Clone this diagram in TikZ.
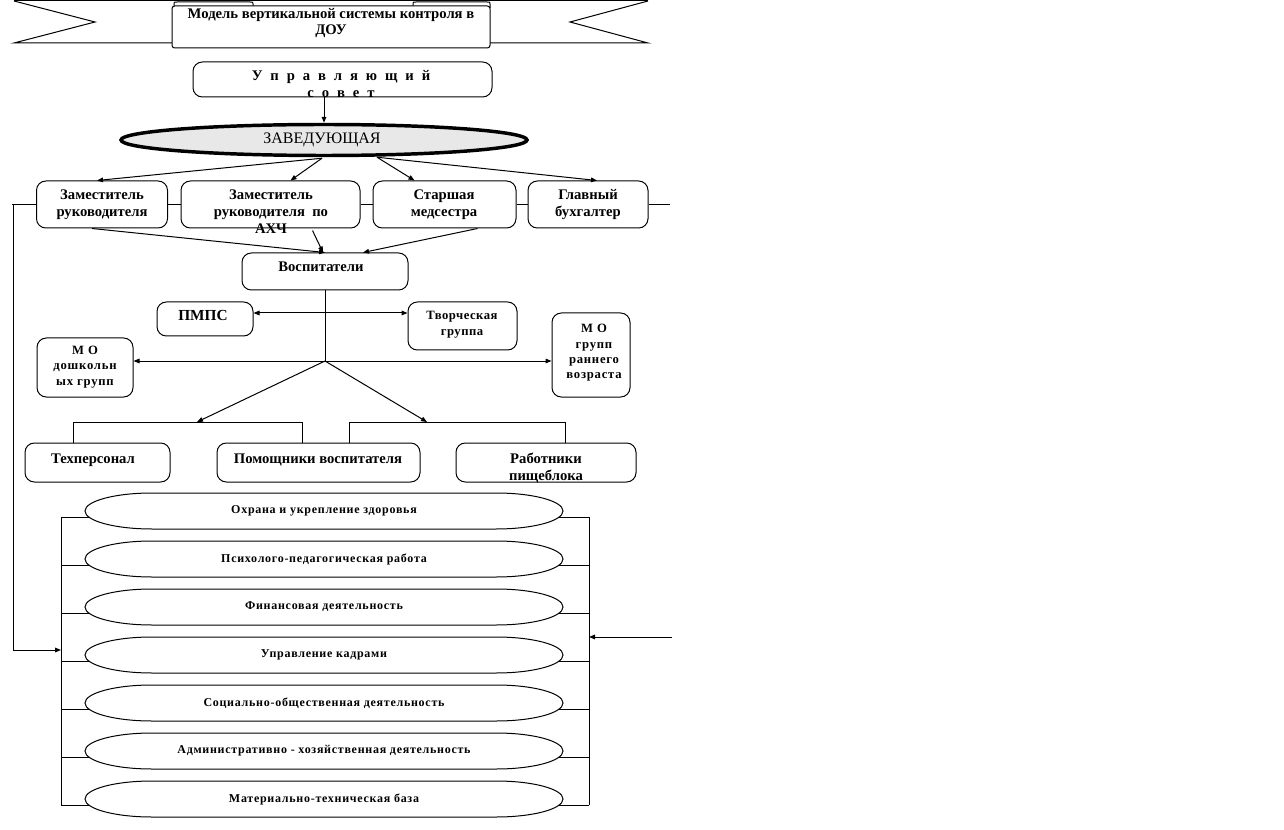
\documentclass[tikz,border=0pt]{standalone}
\usepackage{fontspec}
\setmainfont{Liberation Serif}
\usetikzlibrary{arrows.meta,shapes.geometric,calc}
\def\U{0.75pt}
\begin{document}
\begin{tikzpicture}[x=0.75pt,y=-0.75pt,line width=0.75pt,
  box/.style={draw,fill=white,rounded corners=7pt,inner sep=0pt},
  tx/.style={inner sep=0pt,align=center,font=\bfseries\fontsize{11}{12.75}\selectfont},
  sm/.style={inner sep=0pt,align=center,font=\bfseries\fontsize{9}{11.5}\selectfont\addfontfeature{LetterSpace=6}},
  ov/.style={inner sep=0pt,minimum width=478*\U,minimum height=36*\U,font=\bfseries\fontsize{9}{10}\selectfont\addfontfeature{LetterSpace=6}},
  arr/.style={-{Triangle[length=4.5pt,width=3.5pt]}},
  dbl/.style={{Triangle[length=4.5pt,width=3.5pt]}-{Triangle[length=4.5pt,width=3.5pt]}}]
\useasboundingbox (0,0) rectangle (1284,830);
\fill[white] (0,0) rectangle (1284,830);

% banner
\draw (14,1) -- (648,1);
\draw (14,1) -- (95,22) -- (14,43) -- (172,43);
\draw (648,1) -- (570,22) -- (648,43) -- (490,43);
\draw[fill=white] (174,8) -- (174,4) .. controls (174,2) .. (177,2) -- (250,2) .. controls (253,2) .. (253,4) -- (253,8);
\draw[fill=white] (413,8) -- (413,4) .. controls (413,2) .. (416,2) -- (487,2) .. controls (490,2) .. (490,4) -- (490,8);
\node[draw,fill=white,rounded corners=2pt,minimum width=318*\U,minimum height=42*\U,inner sep=0pt] (title) at (331,27) {};
\node[tx,font=\bfseries\fontsize{11}{12}\selectfont] (titlet) at (331,23) {Модель вертикальной системы контроля в\\ДОУ};

% council
\node[box,minimum width=299*\U,minimum height=35*\U] (sovet) at (342.5,79.5) {};
\node[tx,font=\bfseries\fontsize{11}{12.75}\selectfont\addfontfeature{LetterSpace=29}] (sovett) at (341,84) {У п р а в л я ю щ и й\\с о в е т};

% head
\node[draw,ellipse,fill=black!9,line width=2.6pt,minimum width=406*\U,minimum height=31*\U,inner sep=0pt] (zav) at (324,140) {};
\node[inner sep=0pt,font=\fontsize{12}{12}\selectfont] (zavt) at (322,140) {ЗАВЕДУЮЩАЯ};
\draw[arr] (zav.north |- sovet.south) -- (zav.north);

% deputies row
\coordinate (L) at (12,204.5);
\coordinate (R) at (670,204.5);
\node[box,minimum width=131*\U,minimum height=47*\U] (zam1) at (102,204.5) {};
\node[box,minimum width=179*\U,minimum height=47*\U] (zam2) at (270.5,204.5) {};
\node[box,minimum width=143*\U,minimum height=47*\U] (star) at (444.5,204.5) {};
\node[box,minimum width=120*\U,minimum height=47*\U] (glav) at (588,204.5) {};
\draw (L) -- (zam1.west);
\draw (zam1.east) -- (zam2.west);
\draw (zam2.east) -- (star.west);
\draw (star.east) -- (glav.west);
\draw (glav.east) -- (R);
\node[tx] (zam1t) at (102,205) {Заместитель\\руководителя};
\node[tx] (zam2t) at (271,212) {Заместитель\\руководителя\ \ по\\АХЧ};
\node[tx] (start) at (444,205) {Старшая\\медсестра};
\node[tx] (glavt) at (588,205) {Главный\\бухгалтер};

\draw[arr] ($(zav.south)+(-2,1)$) -- ($(zam1.north)+(-5,0)$);
\draw[arr] ($(zav.south)+(-2,1)$) -- ($(zam2.north)+(20,0)$);
\draw[arr] ($(zav.south)+(53,0)$) -- ($(star.north)+(-30,0)$);
\draw[arr] ($(zav.south)+(53,0)$) -- ($(glav.north)+(9,0)$);

% educators
\node[box,minimum width=166*\U,minimum height=37*\U] (vosp) at (325,271.5) {};
\node[tx] (vospt) at (321,267) {Воспитатели};
\draw[arr] ($(zam1.south)+(-10,0)$) -- (vosp.north);
\draw[arr] ($(zam2.south)+(42,2)$) -- ($(vosp.north)+(-2,0)$);
\draw[arr] ($(star.south)+(33,0)$) -- ($(vosp.north)+(38,0)$);

\coordinate (hub) at (325,361);
\draw (vosp.south) -- (hub);

\node[box,minimum width=96*\U,minimum height=34*\U] (pmps) at (205,319) {};
\node[tx,font=\bfseries\fontsize{11.5}{12}\selectfont] (pmpst) at (203,315) {ПМПС};
\node[box,minimum width=109*\U,minimum height=48*\U] (tvor) at (462.5,326) {};
\node[sm,font=\bfseries\fontsize{9.5}{12}\selectfont\addfontfeature{LetterSpace=4}] (tvort) at (462,325) {Творческая\\группа};
\draw[dbl] (pmps.east |- 0,313) -- (tvor.west |- 0,313);

\node[box,minimum width=96*\U,minimum height=59*\U] (mo1) at (85,367.5) {};
\node[sm,font=\bfseries\fontsize{9.5}{11.6}\selectfont\addfontfeature{LetterSpace=6}] (mo1t) at (85,367) {М О\\дошкольн\\ых групп};
\node[box,minimum width=78*\U,minimum height=84*\U] (mo2) at (591,355) {};
\node[sm,font=\bfseries\fontsize{9.5}{11.5}\selectfont\addfontfeature{LetterSpace=6}] (mo2t) at (594,353) {М О\\групп\\раннего\\возраста};
\draw[arr] (hub) -- (mo1.east |- hub);
\draw[arr] (hub) -- (mo2.west |- hub);

% staff
\coordinate (b1) at (197,422);
\coordinate (b2) at (427,422);
\draw[arr] (hub) -- (b1);
\draw[arr] (hub) -- (b2);
\node[box,minimum width=145*\U,minimum height=39*\U] (tech) at (97.5,462.5) {};
\node[box,minimum width=203*\U,minimum height=39*\U] (pom) at (318.5,462.5) {};
\node[box,minimum width=180*\U,minimum height=39*\U] (rab) at (546,462.5) {};
\draw (tech.north -| 73,0) -- (73,422) -- (302,422) -- (pom.north -| 302,0);
\draw (pom.north -| 349,0) -- (349,422) -- (565,422) -- (rab.north -| 565,0);
\node[tx] (techt) at (93,460) {Техперсонал};
\node[tx] (pomt) at (318,460) {Помощники воспитателя};
\node[tx] (rabt) at (546,468) {Работники\\пищеблока};

% areas
\draw (61,517) -- (61,805);
\draw (589,517) -- (589,805);
\foreach \t [count=\k from 0] in {Охрана и укрепление здоровья,Психолого-педагогическая работа,Финансовая деятельность,Управление кадрами,Социально-общественная деятельность,Административно - хозяйственная деятельность,Материально-техническая база}{
  \node[ov] (o\k) at (324,511+48*\k) {\t};
  \draw ($(o\k)+(-172,-18)$) -- ($(o\k)+(172,-18)$)
     .. controls ($(o\k)+(209,-18)$) and ($(o\k)+(239,-10)$) .. ($(o\k)+(239,0)$)
     .. controls ($(o\k)+(239,10)$) and ($(o\k)+(209,18)$) .. ($(o\k)+(172,18)$)
     -- ($(o\k)+(-172,18)$)
     .. controls ($(o\k)+(-209,18)$) and ($(o\k)+(-239,10)$) .. ($(o\k)+(-239,0)$)
     .. controls ($(o\k)+(-239,-10)$) and ($(o\k)+(-209,-18)$) .. ($(o\k)+(-172,-18)$);
  \draw (61,517+48*\k) -- ($(o\k)+(-235,6)$);
  \draw ($(o\k)+(235,6)$) -- (589,517+48*\k);
}
\coordinate (LB) at (13,650);
\draw[arr] (13,204.5) -- (LB) -- (61,650);
\coordinate (RA) at (672,637);
\draw[arr] (RA) -- (589,637);
\end{tikzpicture}
\end{document}
